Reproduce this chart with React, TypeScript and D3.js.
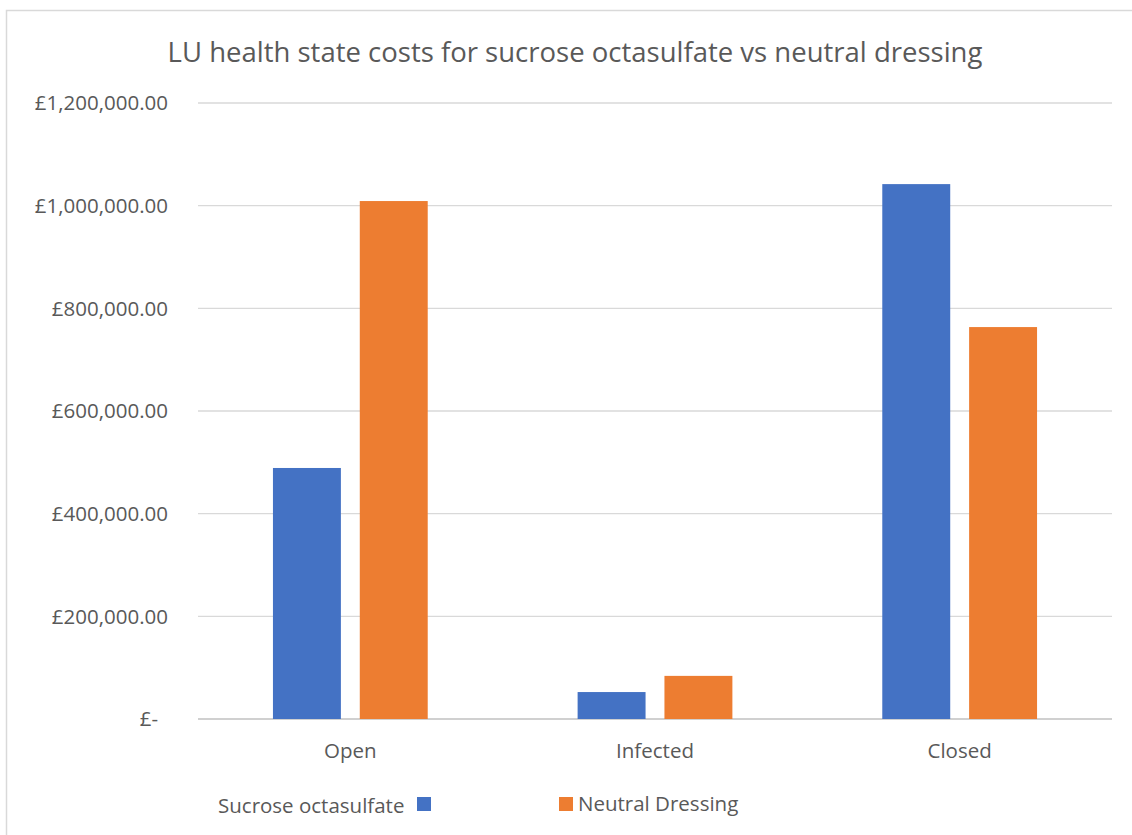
import React from "react";
import * as d3 from "d3";

const categories = ["Open", "Infected", "Closed"];
const seriesNames = ["Sucrose octasulfate", "Neutral Dressing"];
const sucroseValues = [489000, 52500, 1042000];
const neutralValues = [1009000, 84000, 763500];
const yTicks = [0, 200000, 400000, 600000, 800000, 1000000, 1200000];
const colors = ["#4472C4", "#ED7D31"];

const W = 1132;
const H = 835;
const FONT = "'Open Sans', 'Noto Sans', sans-serif";

const fmt = (v: number) =>
  v === 0 ? "£-" : "£" + d3.format(",.2f")(v);

export default function App() {
  const x0 = 198;
  const x1 = 1112;
  const yTop = 103;
  const yBase = 719;

  const x = d3.scaleBand<string>().domain(categories).range([x0, x1]);
  const y = d3.scaleLinear().domain([0, 1200000]).range([yBase, yTop]);
  const bw = x.bandwidth();
  const barW = bw * 0.223;
  const gap = bw * 0.062;

  const series = [sucroseValues, neutralValues];

  return (
    <svg
      width={W}
      height={H}
      style={{ position: "absolute", left: 0, top: 0, background: "#fff" }}
      fontFamily={FONT}
    >
      <rect x={6.5} y={10.5} width={W} height={H} fill="#fff" stroke="#d9d9d9" strokeWidth={1.5} />
      <text x={575} y={62} textAnchor="middle" fontSize={27.5} fill="#595959">
        LU health state costs for sucrose octasulfate vs neutral dressing
      </text>
      {yTicks.map((t) => (
        <g key={t}>
          <line x1={x0} x2={x1} y1={y(t)} y2={y(t)} stroke={t === 0 ? "#d0d0d0" : "#d9d9d9"} strokeWidth={t === 0 ? 2 : 1.3} />
          <text
            x={t === 0 ? 158 : 168}
            y={y(t)}
            dy="0.36em"
            textAnchor="end"
            fontSize={20.5}
            fill="#595959"
          >
            {fmt(t)}
          </text>
        </g>
      ))}
      {categories.map((c, i) => {
        const cx = (x(c) as number) + bw / 2;
        return (
          <g key={c}>
            {series.map((vals, s) => {
              const left = s === 0 ? cx - gap / 2 - barW : cx + gap / 2;
              return (
                <rect
                  key={s}
                  x={left}
                  y={y(vals[i])}
                  width={barW}
                  height={yBase - y(vals[i])}
                  fill={colors[s]}
                />
              );
            })}
            <text x={cx} y={758} textAnchor="middle" fontSize={20.5} fill="#595959">
              {c}
            </text>
          </g>
        );
      })}
      <text x={218} y={813} fontSize={20.5} fill="#595959">{seriesNames[0]}</text>
      <rect x={417} y={797} width={14} height={14} fill={colors[0]} />
      <rect x={559} y={797} width={14} height={14} fill={colors[1]} />
      <text x={578} y={811} fontSize={20.5} fill="#595959">{seriesNames[1]}</text>
    </svg>
  );
}
